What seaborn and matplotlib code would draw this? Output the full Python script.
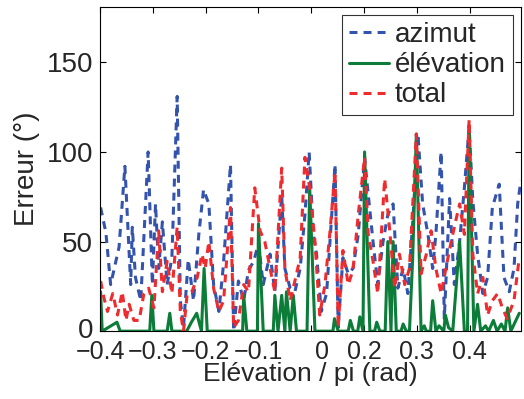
import numpy as np
import pandas as pd
import matplotlib
matplotlib.use("Agg")
import matplotlib.pyplot as plt
import matplotlib.transforms as mtransforms
import seaborn as sns

# azimut error (blue dashed)
az_x = [-0.399, -0.389, -0.380, -0.364, -0.353, -0.342, -0.339, -0.333, -0.323, -0.309,
        -0.301, -0.295, -0.289, -0.282, -0.273, -0.264, -0.254, -0.248, -0.242, -0.233,
        -0.223, -0.213, -0.204, -0.194, -0.185, -0.175, -0.167, -0.153, -0.147, -0.138,
        -0.128, -0.119, -0.109, -0.100, -0.091, -0.078, -0.069, -0.056, -0.050, -0.040,
        -0.031, -0.021, -0.012, -0.004, 0.004, 0.010, 0.019, 0.029, 0.045, 0.051,
        0.060, 0.070, 0.079, 0.089, 0.101, 0.108, 0.117, 0.126, 0.136, 0.145,
        0.155, 0.164, 0.174, 0.183, 0.192, 0.202, 0.211, 0.221, 0.230, 0.236,
        0.246, 0.252, 0.262, 0.271, 0.281, 0.290, 0.299, 0.306, 0.315, 0.325,
        0.334, 0.343, 0.356, 0.365, 0.375, 0.384, 0.391, 0.397]
az_y = [69, 55, 26, 47, 92, 26, 58, 30, 17, 100,
        26, 71, 35, 61, 26, 41, 131, 17, 2, 40,
        17, 54, 79, 71, 26, 11, 35, 93, 0, 28,
        17, 34, 39, 49, 26, 43, 22, 76, 35, 24,
        22, 35, 65, 100, 54, 43, 11, 21, 93, 2,
        41, 32, 35, 54, 97, 76, 50, 26, 50, 65,
        71, 24, 35, 21, 60, 110, 71, 54, 35, 54,
        100, 7, 74, 26, 50, 80, 114, 73, 43, 21,
        30, 69, 82, 30, 22, 35, 71, 84]

# elevation error (green solid)
el_x = [-0.399, -0.396, -0.368, -0.362, -0.306, -0.302, -0.298, -0.273, -0.268, -0.264,
        -0.236, -0.227, -0.217, -0.208, -0.203, -0.197, -0.130, -0.128, -0.122, -0.102,
        -0.100, -0.091, -0.072, -0.069, -0.063, -0.056, -0.050, -0.047, -0.040, -0.034,
        -0.028, -0.008, -0.003, 0.007, 0.041, 0.044, 0.051, 0.070, 0.074, 0.080,
        0.088, 0.092, 0.098, 0.101, 0.111, 0.120, 0.124, 0.130, 0.140, 0.145,
        0.151, 0.155, 0.161, 0.170, 0.174, 0.180, 0.186, 0.192, 0.199, 0.208,
        0.214, 0.218, 0.226, 0.230, 0.236, 0.242, 0.251, 0.254, 0.260, 0.268,
        0.281, 0.290, 0.296, 0.299, 0.308, 0.315, 0.321, 0.330, 0.336, 0.345,
        0.352, 0.360, 0.367, 0.372, 0.378, 0.386, 0.394]
el_y = [22, 0, 5, 0, 0, 20, 0, 0, 10, 0,
        0, 5, 10, 0, 35, 0, 0, 20, 0, 0,
        60, 0, 0, 20, 0, 20, 0, 22, 0, 20,
        0, 0, 80, 0, 0, 7, 0, 0, 6, 0,
        0, 8, 0, 100, 0, 0, 5, 0, 0, 50,
        0, 50, 0, 0, 4, 0, 0, 40, 110, 0,
        3, 0, 0, 17, 0, 3, 0, 9, 2, 0,
        50, 0, 0, 115, 0, 15, 0, 3, 0, 6,
        0, 4, 0, 13, 0, 5, 10]

# total error (red dashed)
tot_x = [-0.399, -0.393, -0.386, -0.376, -0.367, -0.358, -0.351, -0.345, -0.336, -0.326,
         -0.317, -0.308, -0.298, -0.289, -0.282, -0.273, -0.264, -0.254, -0.248, -0.242,
         -0.235, -0.226, -0.216, -0.207, -0.201, -0.194, -0.185, -0.175, -0.166, -0.153,
         -0.147, -0.138, -0.128, -0.119, -0.107, -0.097, -0.088, -0.078, -0.069, -0.056,
         -0.050, -0.040, -0.031, -0.021, -0.012, -0.003, 0.007, 0.016, 0.026, 0.035,
         0.045, 0.051, 0.060, 0.070, 0.079, 0.089, 0.101, 0.108, 0.117, 0.126,
         0.139, 0.148, 0.158, 0.167, 0.177, 0.186, 0.199, 0.208, 0.218, 0.227,
         0.236, 0.246, 0.255, 0.265, 0.274, 0.281, 0.290, 0.299, 0.306, 0.315,
         0.325, 0.334, 0.343, 0.353, 0.362, 0.371, 0.384, 0.394]
tot_y = [28, 19, 11, 21, 9, 22, 6, 15, 6, 6,
         21, 24, 13, 56, 22, 39, 21, 58, 11, 0,
         21, 22, 30, 43, 35, 50, 24, 11, 17, 69,
         2, 6, 26, 22, 80, 56, 50, 35, 22, 91,
         35, 17, 28, 41, 97, 80, 50, 9, 26, 54,
         89, 2, 45, 26, 34, 65, 97, 54, 39, 21,
         85, 58, 24, 43, 26, 35, 110, 32, 43, 56,
         35, 21, 35, 50, 62, 71, 54, 118, 43, 21,
         30, 9, 17, 21, 13, 7, 17, 41]

tick_pos = [-0.4, -0.3, -0.2, -0.1, 0.0, 0.1, 0.2, 0.3]
tick_lab = ["\u22120.4", "\u22120.3", "\u22120.2", "\u22120.1", "0", "0.2", "0.3", "0.4"]

sns.set_style("white")
plt.rcParams["font.family"] = ["Liberation Sans", "DejaVu Sans"]
plt.rcParams["xtick.direction"] = "in"
plt.rcParams["ytick.direction"] = "in"

fig = plt.figure(figsize=(5.24, 3.99), dpi=100)
ax = fig.add_axes([0.191, 0.170, 0.803, 0.813])

blue = "#3453ad"
green = "#0c7d38"
red = "#ee2b2e"
dash = [2.6, 2.0]

sns.lineplot(x=az_x, y=az_y, ax=ax, color=blue, linestyle="--", linewidth=2.2,
             estimator=None, sort=False, label="azimut")
sns.lineplot(x=el_x, y=el_y, ax=ax, color=green, linestyle="-", linewidth=2.2,
             estimator=None, sort=False, label="élévation")
sns.lineplot(x=tot_x, y=tot_y, ax=ax, color=red, linestyle="--", linewidth=2.2,
             estimator=None, sort=False, label="total")
for ln in ax.lines:
    if ln.get_linestyle() == "--":
        ln.set_dashes(dash)

ax.set_xlim(-0.4, 0.397)
ax.set_ylim(0, 181)
ax.set_xticks(tick_pos)
ax.set_xticklabels(tick_lab)
ax.set_yticks([0, 50, 100, 150])
ax.tick_params(labelsize=20, length=4, width=0.8, color="black",
               top=True, right=True, bottom=True, left=True)
ax.tick_params(axis="x", pad=6, labelsize=18)
ax.tick_params(axis="y", pad=5)
for s in ax.spines.values():
    s.set_color("black")
    s.set_linewidth(0.8)
ax.set_xlabel("Elévation / pi (rad)", fontsize=19, labelpad=-1)
ax.set_ylabel("Erreur (°)", fontsize=20, labelpad=5)

# the "0" label sits a little right of its tick in the reference
zero_lab = ax.get_xticklabels()[4]
zero_lab.set_transform(zero_lab.get_transform() +
                       mtransforms.ScaledTranslation(8 / 72, 0, fig.dpi_scale_trans))
# lift the y "0" a touch so it clears the first x label
y0_lab = ax.get_yticklabels()[0]
y0_lab.set_transform(y0_lab.get_transform() +
                     mtransforms.ScaledTranslation(0, 2 / 72, fig.dpi_scale_trans))

leg = ax.legend(loc="upper right", fontsize=20, frameon=True, fancybox=False,
                edgecolor="black", handlelength=1.45, handletextpad=0.2,
                borderpad=0.25, labelspacing=0.15, borderaxespad=0.3)
leg.get_frame().set_linewidth(0.8)
for h in leg.get_lines():
    if h.get_linestyle() == "--":
        h.set_dashes(dash)

fig.savefig("out.png", dpi=100)
